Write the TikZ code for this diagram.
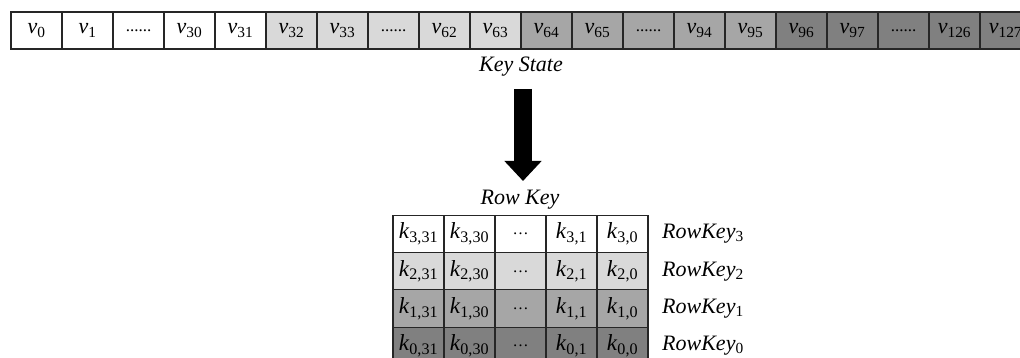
\documentclass[tikz,border=0pt]{standalone}
\usepackage{fontspec}
\setmainfont{Liberation Serif}
\usetikzlibrary{arrows.meta}
\definecolor{gA}{HTML}{D9D9D9}
\definecolor{gB}{HTML}{A6A6A6}
\definecolor{gC}{HTML}{808080}
\newcommand\vv[1]{\textit{v}\textsubscript{#1}}
\newcommand\kk[1]{\textit{k}\textsubscript{#1}}
\newcommand\rk[1]{\textit{RowKey}\textsubscript{#1}}
\begin{document}
\begin{tikzpicture}[x=1pt,y=-1pt,
  cellbox/.style={draw=black!85, line width=1.1pt, minimum width=51pt, minimum height=37.5pt, inner sep=0pt, anchor=center},
  vcell/.style={cellbox, minimum height=37pt, font=\fontsize{22}{26}\selectfont},
  kcell/.style={cellbox, font=\fontsize{23}{27}\selectfont},
  lbl/.style={font=\fontsize{22}{26}\selectfont\itshape, inner sep=0pt},
  rklbl/.style={font=\fontsize{22}{26}\selectfont, inner sep=0pt, anchor=west},
]
\useasboundingbox (0,0) rectangle (1020,358);
\clip (0,0) rectangle (1020,358);
% top row
\foreach \lab/\col [count=\i from 0] in {
  {\vv{0}}/white, {\vv{1}}/white, {\fontsize{17}{20}\selectfont......}/white, {\vv{30}}/white, {\vv{31}}/white,
  {\vv{32}}/gA, {\vv{33}}/gA, {\fontsize{17}{20}\selectfont......}/gA, {\vv{62}}/gA, {\vv{63}}/gA,
  {\vv{64}}/gB, {\vv{65}}/gB, {\fontsize{17}{20}\selectfont......}/gB, {\vv{94}}/gB, {\vv{95}}/gB,
  {\vv{96}}/gC, {\vv{97}}/gC, {\fontsize{17}{20}\selectfont......}/gC, {\vv{126}}/gC, {\vv{127}}/gC}
  \node[vcell, fill=\col] (t\i) at ({36.5+51*\i},30.5) {\lab};
\node[lbl] (ks) at (521,67) {Key State};
\node[lbl] (rkey) at (520,200) {Row Key};
\coordinate (a1) at (523,89);
\coordinate (a2) at (523,181);
\draw[line width=18pt, -{Triangle[width=36pt,length=20pt]}] (a1) -- (a2);
% grid
\foreach \r/\col [count=\j from 0] in {3/white, 2/gA, 1/gB, 0/gC} {
  \foreach \c/\lab [count=\i from 0] in {31/{\kk{\r,31}}, 30/{\kk{\r,30}}, d/{\fontsize{16}{18}\selectfont …}, 1/{\kk{\r,1}}, 0/{\kk{\r,0}}}
    \node[kcell, fill=\col] (k\r-\c) at ({418.5+51*\i},{234+37.3*\j}) {\lab};
  \node[rklbl] (rk\r) at (662,{234+37.3*\j}) {\rk{\r}};
}
\end{tikzpicture}
\end{document}
